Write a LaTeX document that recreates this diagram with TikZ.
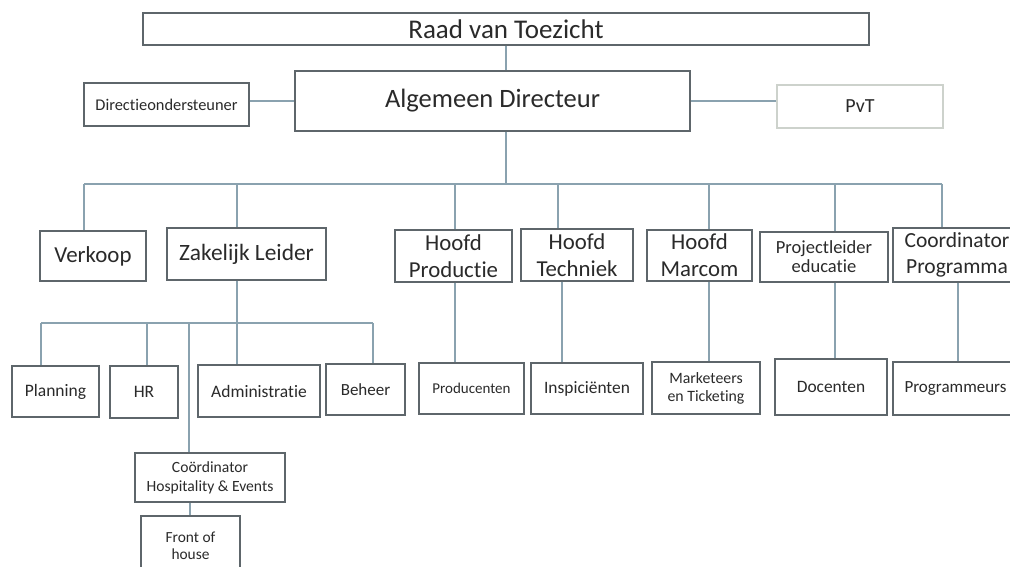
\documentclass[tikz,border=0pt]{standalone}
\usepackage{fontspec}
\setmainfont{Carlito}[Ligatures=NoCommon]
\definecolor{boxc}{HTML}{5E666B}
\definecolor{linec}{HTML}{8AA2AF}
\definecolor{pvtc}{HTML}{CDD2CC}
\definecolor{txt}{HTML}{2A2A2A}
\newcommand{\fs}[2]{\fontsize{#1}{#2}\selectfont}
\tikzset{
  box/.style={draw=boxc, line width=1.1pt, rectangle, inner sep=0pt, align=center, text=txt},
  conn/.style={draw=linec, line width=1.1pt},
}
\begin{document}
\begin{tikzpicture}[x=1pt,y=-1pt]
\useasboundingbox (0,0) rectangle (1010,567);
\clip (0,0) rectangle (1010,567);
\fill[white] (0,0) rectangle (1010,567);
% top level
\node[box, minimum width=726pt, minimum height=32pt, font=\fs{27}{32}] (rvt) at (506,29) {Raad van Toezicht};
\node[box, minimum width=395pt, minimum height=60pt, font=\fs{26.5}{32}] (ad) at (492.5,101) {Algemeen Directeur};
\node[box, minimum width=165pt, minimum height=43pt, font=\fs{16.4}{19}] (dir) at (166.5,104.5) {Directieondersteuner};
\node[box, draw=pvtc, minimum width=166pt, minimum height=43pt, font=\fs{20}{24}] (pvt) at (860,106.5) {PvT};
% second level
\node[box, minimum width=106pt, minimum height=50pt, font=\fs{22.9}{27}] (verkoop) at (93,256) {Verkoop};
\node[box, minimum width=159pt, minimum height=52pt, font=\fs{23.4}{27}] (zl) at (246.5,254) {Zakelijk Leider};
\node[box, minimum width=117pt, minimum height=52pt, font=\fs{22.8}{27}] (hp) at (453.5,256) {Hoofd\\Productie};
\node[box, minimum width=112pt, minimum height=52pt, font=\fs{22.8}{27}] (ht) at (577,255) {Hoofd\\Techniek};
\node[box, minimum width=105pt, minimum height=51pt, font=\fs{22.8}{27}] (hm) at (699.5,255.5) {Hoofd\\Marcom};
\node[box, minimum width=128pt, minimum height=50pt, font=\fs{18.5}{19}] (pe) at (824,257) {Projectleider\\educatie};
\node[box, minimum width=128pt, minimum height=54pt, font=\fs{21.5}{26}] (cp) at (957,255) {Coordinator\\Programma};
% third level
\node[box, minimum width=87pt, minimum height=51pt, font=\fs{17.5}{20}] (plan) at (55.5,391.5) {Planning};
\node[box, minimum width=68pt, minimum height=52pt, font=\fs{17.5}{20}] (hr) at (144,392) {HR};
\node[box, minimum width=122pt, minimum height=52pt, font=\fs{17.5}{20}] (adm) at (259,391) {Administratie};
\node[box, minimum width=79pt, minimum height=51pt, font=\fs{17}{20}] (beh) at (365.5,389.5) {Beheer};
\node[box, minimum width=150pt, minimum height=49pt, font=\fs{15.6}{19}] (che) at (210,477.5) {Coördinator\\Hospitality \& Events};
\node[box, minimum width=99pt, minimum height=60pt, font=\fs{15.4}{17}] (foh) at (190.5,546) {Front of\\house};
\node[box, minimum width=105pt, minimum height=51pt, font=\fs{15}{18}] (prod) at (471.5,388.5) {Producenten};
\node[box, minimum width=112pt, minimum height=51pt, font=\fs{17.4}{20}] (insp) at (587,388.5) {Inspiciënten};
\node[box, minimum width=108pt, minimum height=52pt, font=\fs{15.8}{18}] (mark) at (706,388) {Marketeers\\en Ticketing};
\node[box, minimum width=112pt, minimum height=56pt, font=\fs{17.4}{20}] (doc) at (831,387) {Docenten};
\node[box, minimum width=125pt, minimum height=53pt, font=\fs{17}{20}] (prog) at (955.5,388.5) {Programmeurs};
% connectors top
\coordinate (top) at (506,184);
\coordinate (bL) at (84,184);
\coordinate (bR) at (942,184);
\coordinate (b2) at (237,184);
\coordinate (b3) at (455,184);
\coordinate (b4) at (558,184);
\coordinate (b5) at (709,184);
\coordinate (b6) at (835,184);
\draw[conn] (rvt.south) -- (rvt.south |- ad.north);
\draw[conn] (dir.east |- ad.west) -- (ad.west);
\draw[conn] (ad.east) -- (pvt.west |- ad.east);
\draw[conn] (top |- ad.south) -- (top);
\draw[conn] (bL) -- (bR);
\draw[conn] (bL) -- (bL |- verkoop.north);
\draw[conn] (b2) -- (b2 |- zl.north);
\draw[conn] (b3) -- (b3 |- hp.north);
\draw[conn] (b4) -- (b4 |- ht.north);
\draw[conn] (b5) -- (b5 |- hm.north);
\draw[conn] (b6) -- (b6 |- pe.north);
\draw[conn] (bR) -- (bR |- cp.north);
% Zakelijk leider subtree
\coordinate (z0) at (237,323);
\coordinate (zL) at (41,323);
\coordinate (zR) at (373,323);
\coordinate (zH) at (147,323);
\coordinate (zC) at (189,323);
\draw[conn] (z0 |- zl.south) -- (z0);
\draw[conn] (zL) -- (zR);
\draw[conn] (zL) -- (zL |- plan.north);
\draw[conn] (zH) -- (zH |- hr.north);
\draw[conn] (z0) -- (z0 |- adm.north);
\draw[conn] (zR) -- (zR |- beh.north);
\draw[conn] (zC) -- (zC |- che.north);
\coordinate (fc) at (190,502);
\draw[conn] (fc |- che.south) -- (fc |- foh.north);
% other subtrees
\coordinate (p1) at (455,300);
\coordinate (p2) at (562,300);
\coordinate (p3) at (709,300);
\coordinate (p4) at (835,300);
\coordinate (p5) at (958,300);
\draw[conn] (p1 |- hp.south) -- (p1 |- prod.north);
\draw[conn] (p2 |- ht.south) -- (p2 |- insp.north);
\draw[conn] (p3 |- hm.south) -- (p3 |- mark.north);
\draw[conn] (p4 |- pe.south) -- (p4 |- doc.north);
\draw[conn] (p5 |- cp.south) -- (p5 |- prog.north);
\end{tikzpicture}
\end{document}
